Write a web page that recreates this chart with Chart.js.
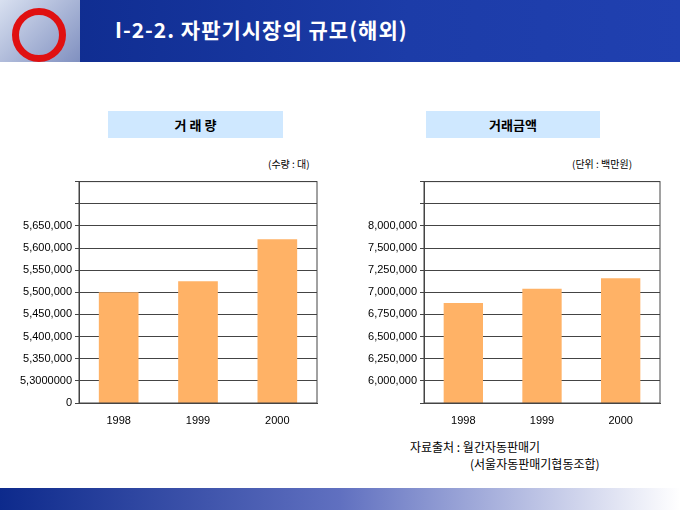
<!DOCTYPE html>
<html><head><meta charset="utf-8">
<script src="https://cdn.jsdelivr.net/npm/chart.js@4"></script>
<style>
body{margin:0;width:680px;height:510px;position:relative;background:#fff;font-family:"Noto Sans CJK KR",sans-serif;overflow:hidden}
.abs{position:absolute}
#banner{left:0;top:0;width:680px;height:62px;background:linear-gradient(90deg,#0d2a8c,#1c3ca8 60%,#2040b0)}
#logo{left:0;top:0;width:80px;height:62px;background:linear-gradient(135deg,#d8e0f0,#8090c0)}
#logo div{position:absolute;left:12px;top:8px;width:40px;height:40px;border-radius:50%;border:7px solid #e01010}
#title{left:115px;top:14px;color:#fff;font-size:21px;font-weight:bold;letter-spacing:1px}
#foot{left:0;top:488px;width:680px;height:22px;background:linear-gradient(90deg,#0d2a8c,#6070c0 50%,#fff)}
.box{background:#cfe8ff;height:27px;line-height:27px;text-align:center;font-size:13px;font-weight:bold}
.unit{font-size:10px}
canvas{position:absolute}
</style></head><body>
<div id="banner" class="abs"></div>
<div id="logo" class="abs"><div></div></div>
<div id="title" class="abs">I-2-2. 자판기시장의 규모(해외)</div>
<div class="abs box" style="left:108px;top:111px;width:175px">거 래 량</div>
<div class="abs box" style="left:426px;top:111px;width:174px">거래금액</div>
<div class="abs unit" style="left:268px;top:156px">(수량 : 대)</div>
<div class="abs unit" style="left:572px;top:156px">(단위 : 백만원)</div>
<div class="abs" style="left:410px;top:438px;font-size:12px">자료출처 : 월간자동판매기</div>
<div class="abs" style="left:470px;top:455px;font-size:12px">(서울자동판매기협동조합)</div>
<div id="foot" class="abs"></div>
<div class="abs" style="left:0;top:172px;width:322px;height:258px"><canvas id="c1"></canvas></div>
<div class="abs" style="left:340px;top:172px;width:325px;height:258px"><canvas id="c2"></canvas></div>
<script>
var years = ["1998", "1999", "2000"];
var volume = [5500000, 5525000, 5620000];
var amount = [6880000, 7040000, 7160000];
var volumeTicks = ["0","5,3000000","5,350,000","5,400,000","5,450,000","5,500,000","5,550,000","5,600,000","5,650,000","",""];
var amountTicks = ["","6,000,000","6,250,000","6,500,000","6,750,000","7,000,000","7,250,000","7,500,000","8,000,000","",""];

function makeChart(id, values, labels, min, step, yWidth){
    new Chart(document.getElementById(id), {
        type: "bar",
        data: {labels: years, datasets: [{data: values, backgroundColor: "#ffb266", categoryPercentage: 1, barPercentage: 0.5}]},
        options: {
            responsive: true, maintainAspectRatio: false, animation: false,
            layout: {padding: {top: 4, right: 5}},
            plugins: {legend: {display: false}, tooltip: {enabled: false}},
            scales: {
                x: {grid: {display: false}, border: {color: "#444"},
                    ticks: {color: "#000", font: {size: 11, family: "Arial"}},
                    afterFit: function(s){ s.height = 27; }},
                y: {min: min, max: min + step * (labels.length - 1),
                    ticks: {stepSize: step, color: "#000", font: {size: 11, family: "Arial"},
                        callback: function(v){ return labels[Math.round((v - min) / step)]; }},
                    grid: {color: "#444", drawTicks: true, tickLength: 4}, border: {color: "#444"},
                    afterFit: function(s){ s.width = yWidth; }}
            }
        },
        plugins: [{id: "frame", afterDraw: function(c){
            var a = c.chartArea, x = c.ctx; x.save(); x.strokeStyle = "#444"; x.lineWidth = 1;
            x.strokeRect(a.left, a.top, a.right - a.left, a.bottom - a.top); x.restore();
        }}]
    });
}
makeChart("c1", volume, volumeTicks, 5250000, 50000, 79);
makeChart("c2", amount, amountTicks, 5750000, 250000, 84);
</script>
</body></html>
